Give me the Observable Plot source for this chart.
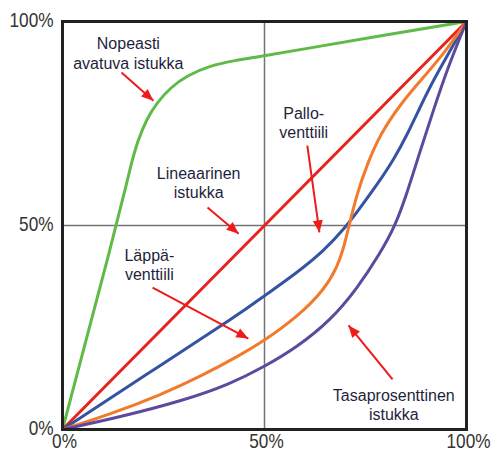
<!DOCTYPE html>
<html><head><meta charset="utf-8">
<script src="https://cdn.jsdelivr.net/npm/d3@7"></script>
<script src="https://cdn.jsdelivr.net/npm/@observablehq/plot@0.6"></script>
<style>body{margin:0;background:#fff;}</style>
</head><body><div id="chart"></div>
<script>
const ticks = [0, 50, 100];
const greenX = [0,6,12,14,15.8,17,18.5,21,23.5,26.7,30.9,36.6,42.4,48.2,60,80,100];
const greenY = [0,22.5,45,53,60,65,70.5,76.5,80.2,83.8,86.8,89.2,90.4,91.3,93.3,96.7,100];
const redX = [0,100];
const redY = [0,100];
const blueX = [0,20,44,50,58,64.7,70,73,78,82,85.3,88.6,92,96,100];
const blueY = [0,13,28.4,32.8,38.4,43.8,49.5,53.4,60.2,66.2,72.2,79.2,86,92.9,100];
const orangeX = [0,12,24.3,34,44.1,50,58,64.7,68,69.6,70.8,72.9,75.4,78.7,83.7,88.6,94.4,100];
const orangeY = [0,3.8,8.5,12.9,18.3,21.8,27.5,34.1,39.8,44.5,49.5,57.8,65,72.5,79.8,85.5,92.1,100];
const purpleX = [0,14,30,41.6,49.8,58.1,66.3,72.9,78.7,82.4,85.3,88.6,91.9,95.2,100];
const purpleY = [0,3,7.1,11.2,15.3,20.2,26.7,34.5,43.3,50,58,68.5,78.5,88.3,100];
const labels = ["Nopeasti\navatuva istukka","Lineaarinen\nistukka","Pallo-\nventtiili","Läppä-\nventtiili","Tasaprosenttinen\nistukka"];
const labelX = [16.3, 33.7, 59.7, 21.5, 82];
const labelY = [92.3, 60.5, 75.2, 40.4, 6.1];
const arrowX1 = [14.6, 35.9, 60.6, 22.3, 81.7];
const arrowY1 = [87.5, 54.4, 69.6, 34.8, 12.3];
const arrowX2 = [22.5, 43.6, 63.6, 46, 70.8];
const arrowY2 = [80.6, 48, 48.3, 22.3, 25.5];

const series = [
  {xs: greenX, ys: greenY, color: "#5fba47"},
  {xs: redX, ys: redY, color: "#e8221d"},
  {xs: blueX, ys: blueY, color: "#3553a3"},
  {xs: orangeX, ys: orangeY, color: "#f27a2c"},
  {xs: purpleX, ys: purpleY, color: "#5b4a9e"}
];
const lineMarks = series.map(s => Plot.line(s.xs.map((x,i)=>({x, y: s.ys[i]})), {x:"x", y:"y", stroke: s.color, strokeWidth: 3, curve: "basis"}));
const labelData = labels.map((t,i)=>({t, x: labelX[i], y: labelY[i]}));
const arrowData = arrowX1.map((x1,i)=>({x1, y1: arrowY1[i], x2: arrowX2[i], y2: arrowY2[i]}));

const chart = Plot.plot({
  width: 493, height: 454,
  marginLeft: 62, marginRight: 27, marginTop: 21, marginBottom: 25,
  style: {fontFamily: "'Liberation Sans',Arial,sans-serif", background: "#fff", color: "#333"},
  x: {domain: [0,100]},
  y: {domain: [0,100]},
  marks: [
    Plot.ruleX([50], {stroke: "#747474", strokeWidth: 1.5}),
    Plot.ruleY([50], {stroke: "#747474", strokeWidth: 1.5}),
    ...lineMarks,
    Plot.link(arrowData, {x1:"x1", y1:"y1", x2:"x2", y2:"y2", stroke: "#f01a1a", strokeWidth: 2}),
    Plot.text(labelData, {x:"x", y:"y", text:"t", fontSize: 16, fill: "#1f1f3d", lineHeight: 1.2, lineAnchor: "middle"}),
    Plot.frame({stroke: "#222", strokeWidth: 3}),
    Plot.axisX(ticks, {tickSize: 0, tickPadding: 4, dx: 2, tickFormat: d => d + "%", fontSize: 21, fill: "#333", label: null}),
    Plot.axisY(ticks, {tickSize: 0, tickPadding: 9, dy: -1, tickFormat: d => d + "%", fontSize: 21, fill: "#333", label: null})
  ]
});

// condensed tick labels (narrow face)
chart.querySelectorAll('g[aria-label$="tick label"] text').forEach(t => {
  t.setAttribute("transform", (t.getAttribute("transform") || "") + " scale(0.82,1)");
});
// filled arrowheads
const ns = "http://www.w3.org/2000/svg";
const defs = document.createElementNS(ns, "defs");
const marker = document.createElementNS(ns, "marker");
marker.setAttribute("id", "redhead");
marker.setAttribute("markerUnits", "userSpaceOnUse");
marker.setAttribute("markerWidth", "14");
marker.setAttribute("markerHeight", "12");
marker.setAttribute("viewBox", "-13 -6 14 12");
marker.setAttribute("refX", "0");
marker.setAttribute("refY", "0");
marker.setAttribute("orient", "auto");
const head = document.createElementNS(ns, "path");
head.setAttribute("d", "M0,0L-12,-5L-12,5Z");
head.setAttribute("fill", "#f01a1a");
marker.append(head);
defs.append(marker);
chart.prepend(defs);
chart.querySelectorAll('g[aria-label="link"] path').forEach(p => p.setAttribute("marker-end", "url(#redhead)"));

document.getElementById("chart").append(chart);
</script>
</body></html>
